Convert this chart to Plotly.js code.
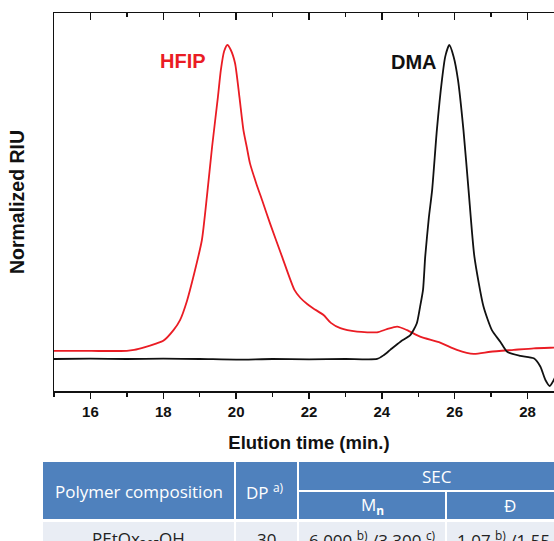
<!DOCTYPE html>
<html>
<head>
<meta charset="utf-8">
<script src="https://cdn.plot.ly/plotly-3.0.1.min.js"></script>
<style>
html, body { margin:0; padding:0; overflow:hidden; background:#fff; }
#chart { width:575px; height:541px; }
</style>
</head>
<body>
<div id="chart"></div>
<script>
// ---- data ----
const hfipTime = [15, 16, 17, 17.2, 17.5, 17.82, 18.0, 18.28, 18.46, 18.65, 18.85, 19.06, 19.2, 19.34, 19.5, 19.58, 19.67, 19.76, 19.85, 19.97, 20.09, 20.2, 20.29, 20.38, 20.55, 20.73, 20.93, 21.26, 21.6, 21.76, 21.95, 22.12, 22.4, 22.6, 22.86, 23.32, 23.87, 24.14, 24.42, 24.69, 25.05, 25.6, 26.06, 26.52, 26.98, 27.62, 28.17, 28.72, 29];
const hfipRIU  = [0.0255, 0.0255, 0.026, 0.029, 0.038, 0.050, 0.058, 0.092, 0.124, 0.185, 0.273, 0.379, 0.52, 0.676, 0.835, 0.92, 0.98, 1.0, 0.985, 0.942, 0.835, 0.729, 0.676, 0.623, 0.560, 0.500, 0.432, 0.326, 0.22, 0.195, 0.175, 0.161, 0.140, 0.115, 0.098, 0.087, 0.085, 0.095, 0.103, 0.092, 0.071, 0.052, 0.029, 0.016, 0.023, 0.029, 0.034, 0.036, 0.037];

const dmaTime = [15, 16, 17, 18, 19, 20, 21, 22, 23, 23.87, 24.05, 24.23, 24.51, 24.78, 24.96, 25.05, 25.13, 25.19, 25.29, 25.38, 25.51, 25.65, 25.74, 25.85, 25.97, 26.09, 26.24, 26.38, 26.54, 26.79, 27.02, 27.25, 27.44, 27.8, 28.17, 28.35, 28.49, 28.61, 28.72, 28.85, 29];
const dmaRIU  = [0, 0.001, 0, 0.001, 0, -0.002, 0, -0.001, 0, 0.0, 0.012, 0.029, 0.055, 0.076, 0.114, 0.167, 0.22, 0.326, 0.45, 0.538, 0.729, 0.889, 0.963, 1.0, 0.963, 0.889, 0.729, 0.538, 0.326, 0.167, 0.092, 0.055, 0.023, 0.010, 0.002, -0.024, -0.067, -0.086, -0.067, -0.035, -0.02];

const seriesNames = ["HFIP", "DMA"];
const tableHeader = ["Polymer composition", "DP <sup>a)</sup>", "SEC", "M<sub><b>n</b></sub>", "Đ"];
const tableRow = ["PEtOx<sub>30</sub>-OH", "30", "6 000 <sup>b)</sup> /3 300 <sup>c)</sup>", "1.07 <sup>b)</sup> /1.55 <sup>c)</sup>"];

// ---- layout helpers (pixel -> paper) ----
const W = 575, H = 541;
const mL = 54, mR = W - 564, mT = 13, mB = H - 391;
const plotW = W - mL - mR, plotH = H - mT - mB;
const px = p => (p - mL) / plotW;
const py = p => (H - mB - p) / plotH;

const red = "rgb(234,28,36)";
const blue = "rgb(79,129,189)";
const light = "rgb(233,237,244)";

const traces = [
  {x: hfipTime, y: hfipRIU, name: seriesNames[0], mode: "lines", line: {color: red, width: 1.8, shape: "spline", smoothing: 0.6}},
  {x: dmaTime, y: dmaRIU, name: seriesNames[1], mode: "lines", line: {color: "#111", width: 1.8, shape: "spline", smoothing: 0.6}},
  {x: [15, 29], y: [null, null], xaxis: "x2", mode: "lines", showlegend: false, hoverinfo: "skip"}
];

const shapes = [];
function rect(x0, y0, x1, y1, color) {
  shapes.push({type: "rect", xref: "paper", yref: "paper", x0: px(x0), x1: px(x1), y0: py(y1), y1: py(y0), fillcolor: color, line: {width: 0}, layer: "above"});
}
// header cells
rect(43, 462, 234, 519, blue);
rect(236, 462, 297, 519, blue);
rect(299, 462, 575, 490, blue);
rect(299, 492, 445, 519, blue);
rect(447, 492, 575, 519, blue);
// data row
rect(43, 522, 234, 560, light);
rect(236, 522, 297, 560, light);
rect(299, 522, 445, 560, light);
rect(447, 522, 575, 560, light);

const annotations = [];
function txt(text, x, y, color, size, extra) {
  annotations.push(Object.assign({text: text, xref: "paper", yref: "paper", x: px(x), y: py(y), xanchor: "center", yanchor: "middle", showarrow: false,
    font: {family: "Open Sans", size: size, color: color}}, extra || {}));
}
const tfs = 17;
txt(tableHeader[0], 138.5, 491, "#fff", tfs);
txt(tableHeader[1], 265, 491, "#fff", tfs);
txt(tableHeader[2], 437, 476, "#fff", tfs);
txt(tableHeader[3], 372, 505, "#fff", tfs);
txt(tableHeader[4], 510, 505, "#fff", tfs);
txt(tableRow[0], 138.5, 539, "#222", tfs);
txt(tableRow[1], 266.5, 539, "#222", tfs);
txt(tableRow[2], 372, 539, "#222", tfs);
txt(tableRow[3], 510, 539, "#222", tfs);

// series labels
annotations.push({text: "<b>HFIP</b>", x: 18.54, y: 0.949, xref: "x", yref: "y", showarrow: false, xanchor: "center", yanchor: "middle",
  font: {family: "Liberation Sans", size: 20, color: red}});
annotations.push({text: "<b>DMA</b>", x: 24.89, y: 0.946, xref: "x", yref: "y", showarrow: false, xanchor: "center", yanchor: "middle",
  font: {family: "Liberation Sans", size: 20, color: "#111"}});

const layout = {
  width: W, height: H,
  margin: {l: mL, r: mR, t: mT, b: mB, pad: 0},
  paper_bgcolor: "#fff", plot_bgcolor: "#fff",
  showlegend: false,
  font: {family: "Liberation Sans", color: "#111"},
  xaxis: {
    range: [15, 29], dtick: 2, tick0: 0, showgrid: false, zeroline: false,
    showline: true, linecolor: "#111", linewidth: 1.5,
    ticks: "outside", ticklen: 6, tickwidth: 1.5, tickcolor: "#111",
    minor: {ticks: "outside", ticklen: 4, tickwidth: 1.5, dtick: 1, tickcolor: "#111"},
    tickfont: {family: "Liberation Sans", size: 15, weight: "bold", color: "#111"},
    title: {text: "Elution time (min.)", font: {family: "Liberation Sans", size: 18.5, weight: "bold", color: "#111"}, standoff: 17},
    automargin: false
  },
  xaxis2: {
    overlaying: "x", side: "top", matches: "x", range: [15, 29], dtick: 2, tick0: 0,
    showgrid: false, zeroline: false, showline: true, linecolor: "#111", linewidth: 1.5,
    ticks: "inside", ticklen: 7, tickwidth: 1.5, tickcolor: "#111",
    minor: {ticks: "inside", ticklen: 4, tickwidth: 1.5, dtick: 1, tickcolor: "#111"},
    showticklabels: false, automargin: false
  },
  yaxis: {
    range: [-0.102, 1.102], showgrid: false, zeroline: false,
    showline: true, linecolor: "#111", linewidth: 1.5,
    ticks: "", showticklabels: false,
    title: {text: "Normalized RIU", font: {family: "Liberation Sans", size: 19.5, weight: "bold", color: "#111"}, standoff: 22},
    automargin: false
  },
  shapes: shapes,
  annotations: annotations
};

Plotly.newPlot("chart", traces, layout, {staticPlot: true, displayModeBar: false});
</script>
</body>
</html>
